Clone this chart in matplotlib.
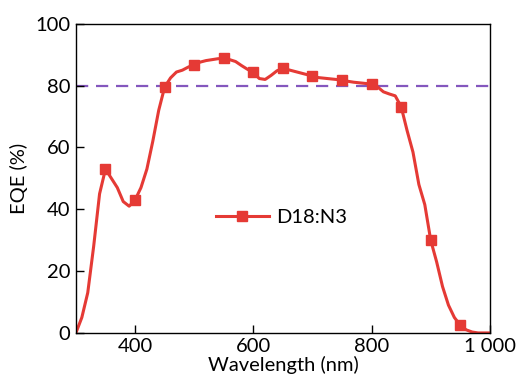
import numpy as np
import matplotlib
matplotlib.use("Agg")
import matplotlib.pyplot as plt

plt.rcParams['font.family'] = ['Lato', 'DejaVu Sans']

# EQE curve, every 10 nm
wavelength = np.arange(300, 1001, 10)
eqe = [0, 5, 13, 28, 45, 53, 50, 47, 42.5, 41,
       43, 47, 53, 62, 72, 79.5, 82.5, 84.4, 85, 86,
       86.8, 87.6, 88.1, 88.4, 88.7, 88.8, 88.4, 87.8, 86.5, 85.3,
       84.3, 82.3, 82.0, 83.3, 84.8, 85.6, 85.1, 84.6, 84.1, 83.6,
       83.1, 82.6, 82.4, 82.2, 82.0, 81.8, 81.4, 81.1, 80.9, 80.7,
       80.5, 79.6, 78.0, 77.3, 76.7, 73.2, 65.5, 58.5, 48, 41.5,
       30, 23, 15, 9, 5, 2.5, 1, 0.3, 0, 0, 0]
marker_wl = np.arange(350, 951, 50)
ref_level = 80
label = 'D18:N3'

red = '#E53A35'
purple = '#8457BE'

fig = plt.figure(figsize=(5.2, 3.84), dpi=100)
ax = fig.add_axes([0.146, 0.133, 0.796, 0.805])

ax.axhline(ref_level, color=purple, ls=(0, (5.5, 3.5)), lw=1.6, zorder=1)
ax.plot(wavelength, eqe, color=red, lw=2.2, zorder=2)
mk_idx = [list(wavelength).index(w) for w in marker_wl]
ax.plot(marker_wl, [eqe[i] for i in mk_idx], ls='none', marker='s', ms=6.5,
        color=red, zorder=3)
# legend proxy: line + marker
ax.plot([], [], color=red, lw=2.2, marker='s', ms=6.5, label=label)

ax.set_xlim(300, 1000)
ax.set_ylim(0, 100)
ax.set_xticks([400, 600, 800, 1000])
ax.set_xticklabels(['400', '600', '800', '1 000'])
ax.set_yticks([0, 20, 40, 60, 80, 100])
ax.tick_params(direction='in', length=6, width=1, labelsize=14.5,
               top=False, right=False, pad=4)
for s in ax.spines.values():
    s.set_linewidth(1.0)
ax.set_xlabel('Wavelength (nm)', fontsize=14.5, labelpad=0)
ax.set_ylabel('EQE (%)', fontsize=14.5, labelpad=5)

ax.legend(loc='center left', bbox_to_anchor=(0.295, 0.375), frameon=False,
          fontsize=14.5, handlelength=2.6, handletextpad=0.4)

fig.savefig('out.png', dpi=100)
